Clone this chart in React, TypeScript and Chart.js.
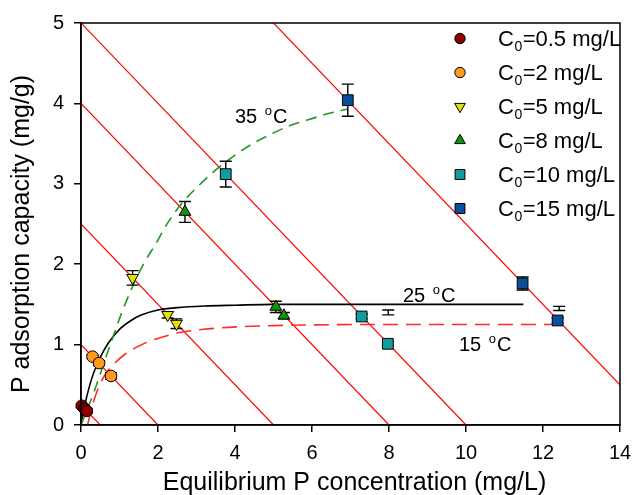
import React, { useEffect, useRef } from 'react';
import { Chart, registerables } from 'chart.js';
Chart.register(...registerables);

const FONT = '"Liberation Sans", Arial, Helvetica, sans-serif';

// Axis ticks
const xTicks = [0, 2, 4, 6, 8, 10, 12, 14];
const yTicks = [0, 1, 2, 3, 4, 5];

// Legend labels (initial concentration)
const c0Labels = ['0.5', '2', '5', '8', '10', '15'];

// Measured points (Ce, qe) with error (±)
const s05X = [0.02, 0.09, 0.15];
const s05Y = [0.24, 0.205, 0.175];
const s05E = [0.02, 0.02, 0.03];

const s2X = [0.30, 0.47, 0.78];
const s2Y = [0.85, 0.77, 0.61];
const s2E = [0.02, 0.03, 0.04];

const s5X = [1.34, 2.25, 2.48];
const s5Y = [1.83, 1.37, 1.26];
const s5E = [0.09, 0.04, 0.06];

const s8X = [2.70, 5.06, 5.27];
const s8Y = [2.65, 1.47, 1.36];
const s8E = [0.13, 0.07, 0.04];

const s10X = [3.76, 7.29, 7.97];
const s10Y = [3.12, 1.35, 1.01];
const s10E = [0.16, 0.03, 0.03];

const s15X = [6.93, 11.47, 12.38];
const s15Y = [4.04, 1.76, 1.30];
const s15E = [0.20, 0.08, 0.03];

// Stray error bars (drawn without a marker)
const strayX = [7.98, 12.42];
const strayY = [1.40, 1.45];
const strayE = [0.03, 0.025];

// Operating lines: x-intercept (C0) and y-intercept
const opLineXInt = [0.5, 2, 5, 8, 10, 15];
const opLineYInt = [0.25, 1, 2.5, 4, 5, 7.5];

// Isotherm curves
const curve35X = [0, 0.36, 0.71, 1.06, 1.32, 1.6, 2.0, 2.22, 2.66, 3.0, 3.35, 3.7, 4.13, 4.5, 4.99, 5.4, 5.86, 6.4, 6.93];
const curve35Y = [0, 0.44, 0.93, 1.40, 1.70, 1.98, 2.30, 2.49, 2.78, 2.95, 3.11, 3.25, 3.40, 3.51, 3.63, 3.72, 3.79, 3.87, 3.93];

const curve25X = [0, 0.1, 0.28, 0.5, 0.71, 1.0, 1.3, 1.58, 2.0, 2.5, 3.2, 4.0, 5.0, 7.0, 11.49];
const curve25Y = [0, 0.25, 0.58, 0.84, 1.02, 1.19, 1.30, 1.37, 1.43, 1.46, 1.48, 1.49, 1.50, 1.50, 1.50];

const curve15X = [0.17, 0.3, 0.45, 0.67, 0.9, 1.14, 1.58, 2.01, 2.57, 3.18, 4.04, 6.0, 8.0, 12.38];
const curve15Y = [0, 0.25, 0.46, 0.66, 0.78, 0.88, 1.0, 1.08, 1.15, 1.19, 1.22, 1.245, 1.25, 1.25];

const tempLabels = ['35', '25', '15'];

const seriesX = [s05X, s2X, s5X, s8X, s10X, s15X];
const seriesY = [s05Y, s2Y, s5Y, s8Y, s10Y, s15Y];
const seriesE = [s05E, s2E, s5E, s8E, s10E, s15E];

const colors = ['#8E0000', '#FF9A1F', '#E2E200', '#0A960A', '#129C9C', '#0A4E9E'];
const styles = ['circle', 'circle', 'triangle', 'triangle', 'rect', 'rect'];
const rotations = [0, 0, 180, 0, 0, 0];
const radii = [5.8, 5.8, 6.8, 6.8, 7.6, 7.6];

function drawMarker(ctx: CanvasRenderingContext2D, style: string, x: number, y: number, r: number, rot: number, fill: string) {
  ctx.save();
  ctx.beginPath();
  if (style === 'circle') {
    ctx.arc(x, y, r, 0, Math.PI * 2);
  } else if (style === 'triangle') {
    let rad = (rot * Math.PI) / 180;
    ctx.moveTo(x + Math.sin(rad) * r, y - Math.cos(rad) * r);
    rad += (2 * Math.PI) / 3;
    ctx.lineTo(x + Math.sin(rad) * r, y - Math.cos(rad) * r);
    rad += (2 * Math.PI) / 3;
    ctx.lineTo(x + Math.sin(rad) * r, y - Math.cos(rad) * r);
    ctx.closePath();
  } else {
    const s = Math.SQRT1_2 * r;
    ctx.rect(x - s, y - s, 2 * s, 2 * s);
  }
  ctx.fillStyle = fill;
  ctx.fill();
  ctx.strokeStyle = '#000';
  ctx.lineWidth = 1;
  ctx.stroke();
  ctx.restore();
}

function drawTemp(ctx: CanvasRenderingContext2D, label: string, x: number, baseline: number) {
  ctx.save();
  ctx.fillStyle = '#000';
  ctx.textAlign = 'left';
  ctx.textBaseline = 'alphabetic';
  ctx.font = `20px ${FONT}`;
  ctx.fillText(label, x, baseline);
  const w = ctx.measureText(label + ' ').width + 2;
  ctx.font = `13px ${FONT}`;
  ctx.fillText('o', x + w, baseline - 8);
  const wo = ctx.measureText('o').width + 1;
  ctx.font = `20px ${FONT}`;
  ctx.fillText('C', x + w + wo, baseline);
  ctx.restore();
}

const overlay = {
  id: 'overlay',
  beforeDatasetDraw(chart: any, args: any) {
    if (args.index !== 5) return;
    const ctx = chart.ctx as CanvasRenderingContext2D;
    const xs = chart.scales.x;
    const ys = chart.scales.y;
    ctx.save();
    ctx.strokeStyle = '#000';
    ctx.lineWidth = 1.4;
    const bar = (x: number, y: number, e: number) => {
      const px = xs.getPixelForValue(x);
      const top = ys.getPixelForValue(y + e);
      const bot = ys.getPixelForValue(y - e);
      ctx.beginPath();
      ctx.moveTo(px, top);
      ctx.lineTo(px, bot);
      ctx.moveTo(px - 6, top);
      ctx.lineTo(px + 6, top);
      ctx.moveTo(px - 6, bot);
      ctx.lineTo(px + 6, bot);
      ctx.stroke();
    };
    seriesX.forEach((arr, i) => arr.forEach((x, j) => bar(x, seriesY[i][j], seriesE[i][j])));
    strayX.forEach((x, j) => bar(x, strayY[j], strayE[j]));
    ctx.restore();
  },
  afterDraw(chart: any) {
    const ctx = chart.ctx as CanvasRenderingContext2D;
    const a = chart.chartArea;
    ctx.save();
    // frame
    ctx.strokeStyle = '#000';
    ctx.lineWidth = 1.5;
    ctx.strokeRect(a.left, a.top, a.right - a.left, a.bottom - a.top);

    // legend
    const rowY0 = 38.5;
    const rowStep = 34;
    c0Labels.forEach((lab, i) => {
      const y = rowY0 + i * rowStep;
      drawMarker(ctx, styles[i], 460, y, i >= 4 ? 7 : i >= 2 ? 6.2 : 5.2, rotations[i], colors[i]);
      ctx.fillStyle = '#000';
      ctx.textAlign = 'left';
      ctx.textBaseline = 'alphabetic';
      ctx.font = `22px ${FONT}`;
      let x = 498;
      ctx.fillText('C', x, y + 7.5);
      x += ctx.measureText('C').width + 0.5;
      ctx.font = `14px ${FONT}`;
      ctx.fillText('0', x, y + 12);
      x += ctx.measureText('0').width + 0.5;
      ctx.font = `22px ${FONT}`;
      ctx.fillText(`=${lab} mg/L`, x, y + 7.5);
    });

    // temperature annotations
    drawTemp(ctx, tempLabels[0], 235, 123);
    drawTemp(ctx, tempLabels[1], 403, 301.5);
    drawTemp(ctx, tempLabels[2], 459, 350.5);

    // axis titles
    ctx.fillStyle = '#000';
    ctx.font = `25px ${FONT}`;
    ctx.textAlign = 'center';
    ctx.textBaseline = 'alphabetic';
    ctx.fillText('Equilibrium P concentration (mg/L)', 354.5, 490);
    ctx.save();
    ctx.translate(29, 234);
    ctx.rotate(-Math.PI / 2);
    ctx.fillText('P adsorption capacity (mg/g)', 0, 0);
    ctx.restore();
    ctx.restore();
  },
};

export default function App() {
  const ref = useRef<HTMLCanvasElement>(null);
  useEffect(() => {
    const canvas = ref.current;
    if (!canvas) return;

    const scatterSets = seriesX.map((arr, i) => ({
      type: 'scatter',
      label: `C0=${c0Labels[i]} mg/L`,
      data: arr.map((x, j) => ({ x, y: seriesY[i][j] })),
      pointStyle: styles[i],
      rotation: rotations[i],
      pointRadius: radii[i],
      pointBackgroundColor: colors[i],
      pointBorderColor: '#000',
      pointBorderWidth: 1,
      backgroundColor: colors[i],
      borderColor: '#000',
      showLine: false,
      clip: false,
    }));

    const curveSet = (xs: number[], ys: number[], color: string, dash: number[]) => ({
      type: 'line',
      data: xs.map((x, j) => ({ x, y: ys[j] })),
      borderColor: color,
      borderWidth: 1.6,
      borderDash: dash,
      pointRadius: 0,
      fill: false,
      cubicInterpolationMode: 'monotone',
    });

    const curves = [
      curveSet(curve35X, curve35Y, '#22962A', [11, 7]),
      curveSet(curve25X, curve25Y, '#000000', []),
      curveSet(curve15X, curve15Y, '#FF2A2A', [15, 8]),
    ];

    const opLines = opLineXInt.map((xi, i) => ({
      type: 'line',
      data: [
        { x: 0, y: opLineYInt[i] },
        { x: xi, y: 0 },
      ],
      borderColor: '#FF0000',
      borderWidth: 1.2,
      pointRadius: 0,
      fill: false,
      tension: 0,
      clip: 0,
    }));

    const chart = new Chart(canvas, {
      type: 'scatter',
      data: { datasets: [...scatterSets, ...curves, ...opLines] as any },
      options: {
        responsive: false,
        animation: false,
        devicePixelRatio: 1,
        layout: { padding: { left: 0, right: 13, top: 23, bottom: 0 } },
        plugins: { legend: { display: false }, tooltip: { enabled: false } },
        scales: {
          x: {
            type: 'linear',
            min: 0,
            max: 14,
            afterFit: (s: any) => {
              s.height = 70;
              s.paddingLeft = 0;
              s.paddingRight = 0;
            },
            afterBuildTicks: (s: any) => {
              s.ticks = xTicks.map((v) => ({ value: v }));
            },
            ticks: { color: '#000', font: { size: 20, family: FONT }, padding: 9, maxRotation: 0 },
            grid: { display: true, drawOnChartArea: false, drawTicks: true, tickLength: 7, color: '#000', lineWidth: 1.5 },
            border: { display: true, color: '#000', width: 1.5 },
          },
          y: {
            type: 'linear',
            min: 0,
            max: 5,
            afterFit: (s: any) => {
              s.width = 81;
              s.paddingTop = 0;
              s.paddingBottom = 0;
            },
            afterBuildTicks: (s: any) => {
              s.ticks = yTicks.map((v) => ({ value: v }));
            },
            ticks: { color: '#000', font: { size: 20, family: FONT }, padding: 10 },
            grid: { display: true, drawOnChartArea: false, drawTicks: true, tickLength: 7, color: '#000', lineWidth: 1.5 },
            border: { display: true, color: '#000', width: 1.5 },
          },
        },
      } as any,
      plugins: [overlay],
    });
    return () => chart.destroy();
  }, []);

  return (
    <div style={{ position: 'fixed', left: 0, top: 0, width: 633, height: 495, background: '#fff' }}>
      <canvas ref={ref} width={633} height={495} style={{ display: 'block' }} />
    </div>
  );
}
